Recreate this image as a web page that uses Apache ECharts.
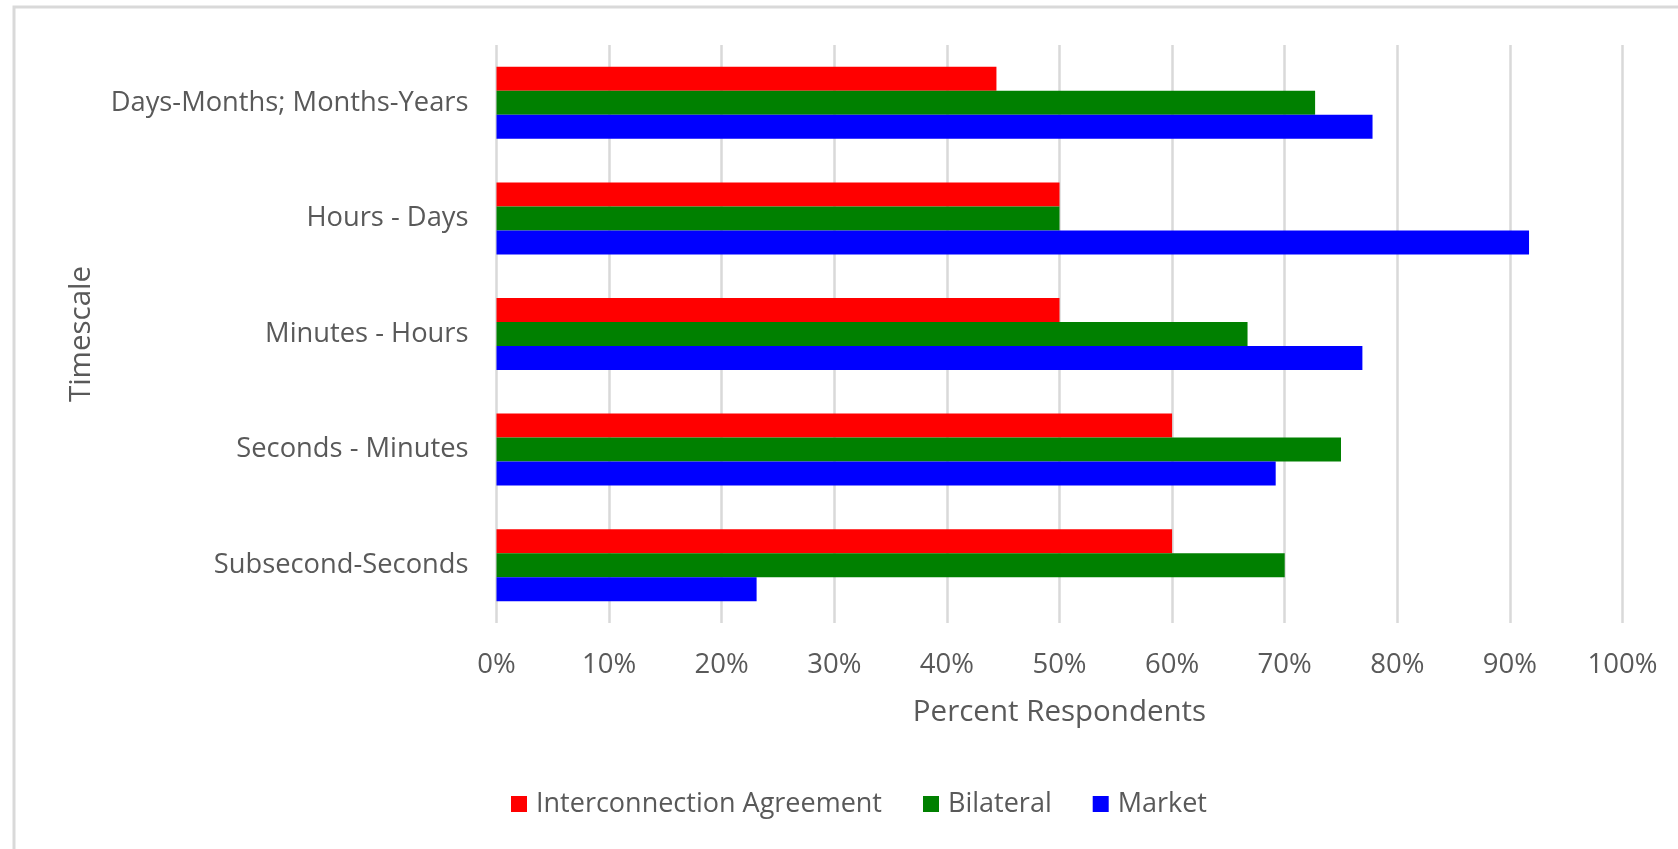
<!DOCTYPE html>
<html>
<head>
<meta charset="utf-8">
<script src="https://cdn.jsdelivr.net/npm/echarts@6/dist/echarts.min.js"></script>
<style>
  html, body { margin: 0; padding: 0; background: #ffffff; }
  #chart { width: 1678px; height: 849px; }
</style>
</head>
<body>
<div id="chart"></div>
<script>
const categories = ['Days-Months; Months-Years', 'Hours - Days', 'Minutes - Hours', 'Seconds - Minutes', 'Subsecond-Seconds'];
const seriesNames = ['Interconnection Agreement', 'Bilateral', 'Market'];
const interconnection = [44.4, 50, 50, 60, 60];
const bilateral = [72.7, 50, 66.7, 75, 70];
const market = [77.8, 91.7, 76.9, 69.2, 23.1];
const xTicks = { min: 0, max: 100, interval: 10 };
const colors = ['#ff0000', '#008000', '#0000ff'];

const FONT = 'Open Sans';
const TEXT = '#595959';

const chart = echarts.init(document.getElementById('chart'), null, { renderer: 'canvas' });
const values = [interconnection, bilateral, market];

chart.setOption({
  animation: false,
  backgroundColor: '#ffffff',
  graphic: [{
    type: 'rect',
    z: -10,
    shape: { x: 14, y: 7, width: 1720, height: 900 },
    style: { fill: 'none', stroke: '#d9d9d9', lineWidth: 3 }
  }],
  grid: { left: 496.5, right: 55.5, top: 45, bottom: 226, containLabel: false },
  legend: {
    data: seriesNames,
    left: 506,
    top: 785,
    icon: 'rect',
    itemWidth: 16,
    itemHeight: 16,
    itemGap: 41,
    textStyle: { fontFamily: FONT, fontSize: 27, color: TEXT, lineHeight: 28, padding: [0, 0, 0, 4] }
  },
  xAxis: {
    type: 'value',
    min: xTicks.min,
    max: xTicks.max,
    interval: xTicks.interval,
    name: 'Percent Respondents',
    nameLocation: 'middle',
    nameGap: 75,
    nameTextStyle: { fontFamily: FONT, fontSize: 29.5, color: TEXT },
    axisLine: { show: false },
    axisTick: { show: false },
    axisLabel: { fontFamily: FONT, fontSize: 27.5, color: TEXT, margin: 28, formatter: v => v + '%' },
    splitLine: { show: true, lineStyle: { color: '#d9d9d9', width: 2.5 } }
  },
  yAxis: {
    type: 'category',
    data: categories,
    inverse: true,
    name: 'Timescale',
    nameLocation: 'middle',
    nameGap: 400,
    nameTextStyle: { fontFamily: FONT, fontSize: 29.5, color: TEXT },
    axisLine: { show: false },
    axisTick: { show: false },
    axisLabel: { fontFamily: FONT, fontSize: 27.3, color: TEXT, margin: 28 },
    splitLine: { show: false }
  },
  series: seriesNames.map((name, i) => ({
    name: name,
    type: 'bar',
    data: values[i],
    barWidth: 24,
    barGap: '0%',
    itemStyle: { color: colors[i] }
  }))
});
</script>
</body>
</html>
